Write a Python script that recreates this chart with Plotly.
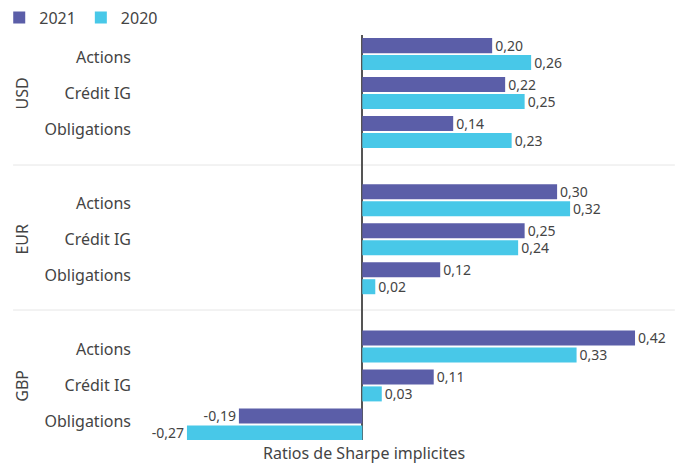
import plotly.graph_objects as go

# données
groups = ["USD", "EUR", "GBP"]
assets = ["Actions", "Crédit IG", "Obligations"]
v2021 = [0.20, 0.22, 0.14, 0.30, 0.25, 0.12, 0.42, 0.11, -0.19]
v2020 = [0.26, 0.25, 0.23, 0.32, 0.24, 0.02, 0.33, 0.03, -0.27]

C2021 = "#5b5ea8"
C2020 = "#48c8e8"
TXT = "#444444"
FONT = "Noto Sans"

GROUP_STEP = 3.75
LABEL_STEP = 0.923  # les libellés sont un peu plus serrés que les barres
pos = [g * GROUP_STEP + i for g in range(len(groups)) for i in range(len(assets))]
label_pos = [g * GROUP_STEP + 1 + (i - 1) * LABEL_STEP for g in range(len(groups)) for i in range(len(assets))]
labels = [a for _ in groups for a in assets]

fig = go.Figure()
for name, vals, col, off in [("2021", v2021, C2021, -0.41), ("2020", v2020, C2020, 0.025)]:
    fig.add_trace(
        go.Bar(
            y=pos,
            x=vals,
            name=name,
            orientation="h",
            marker=dict(color=col, line=dict(width=0)),
            width=0.385,
            offset=off,
            text=vals,
            texttemplate="%{x:.2f}",
            textposition="outside",
            textfont=dict(size=14, color=TXT, family=FONT),
            constraintext="none",
            cliponaxis=False,
            hoverinfo="x+name",
        )
    )

# séparateurs entre devises
shapes = []
for g in range(1, len(groups)):
    ymid = (g - 1) * GROUP_STEP + 2 + (GROUP_STEP - 2) / 2 - 0.03 * g
    shapes.append(dict(type="line", xref="paper", yref="y", x0=-0.263, x1=1.027,
                       y0=ymid, y1=ymid, line=dict(color="#e6e6e6", width=1), layer="below"))

annotations = []
for g, name in enumerate(groups):
    annotations.append(dict(text=name, xref="paper", yref="y", x=-0.245, y=g * GROUP_STEP + 1,
                            xanchor="center", yanchor="middle", showarrow=False, textangle=-90,
                            font=dict(size=16, color=TXT, family=FONT)))
annotations.append(dict(text="Ratios de Sharpe implicites", xref="x", yref="paper", x=0.003, y=-0.033,
                        xanchor="center", yanchor="middle", showarrow=False,
                        font=dict(size=16, color=TXT, family=FONT)))

fig.update_layout(
    width=682,
    height=471,
    margin=dict(l=148, r=21, t=35, b=31, autoexpand=False),
    paper_bgcolor="white",
    plot_bgcolor="white",
    separators=", ",
    font=dict(family=FONT, color=TXT, size=16),
    barmode="overlay",
    showlegend=True,
    legend=dict(orientation="h", x=-0.29, y=1.085, yanchor="top", xanchor="left",
                font=dict(size=16, color=TXT), itemwidth=30, traceorder="normal"),
    xaxis=dict(range=[-0.33, 0.46], showgrid=False, showticklabels=False, zeroline=True,
               zerolinecolor="#555555", zerolinewidth=1.5, showline=False, fixedrange=True,
               automargin=False),
    yaxis=dict(range=[9.9, -0.49], tickmode="array", tickvals=label_pos, ticktext=labels,
               showgrid=False, zeroline=False, showline=False, ticks="",
               ticklabelstandoff=16, tickfont=dict(size=16, color=TXT), fixedrange=True,
               automargin=False),
    shapes=shapes,
    annotations=annotations,
)

fig.write_html("out.html", config={"displayModeBar": False},
               post_script="document.body.style.margin='0';")
